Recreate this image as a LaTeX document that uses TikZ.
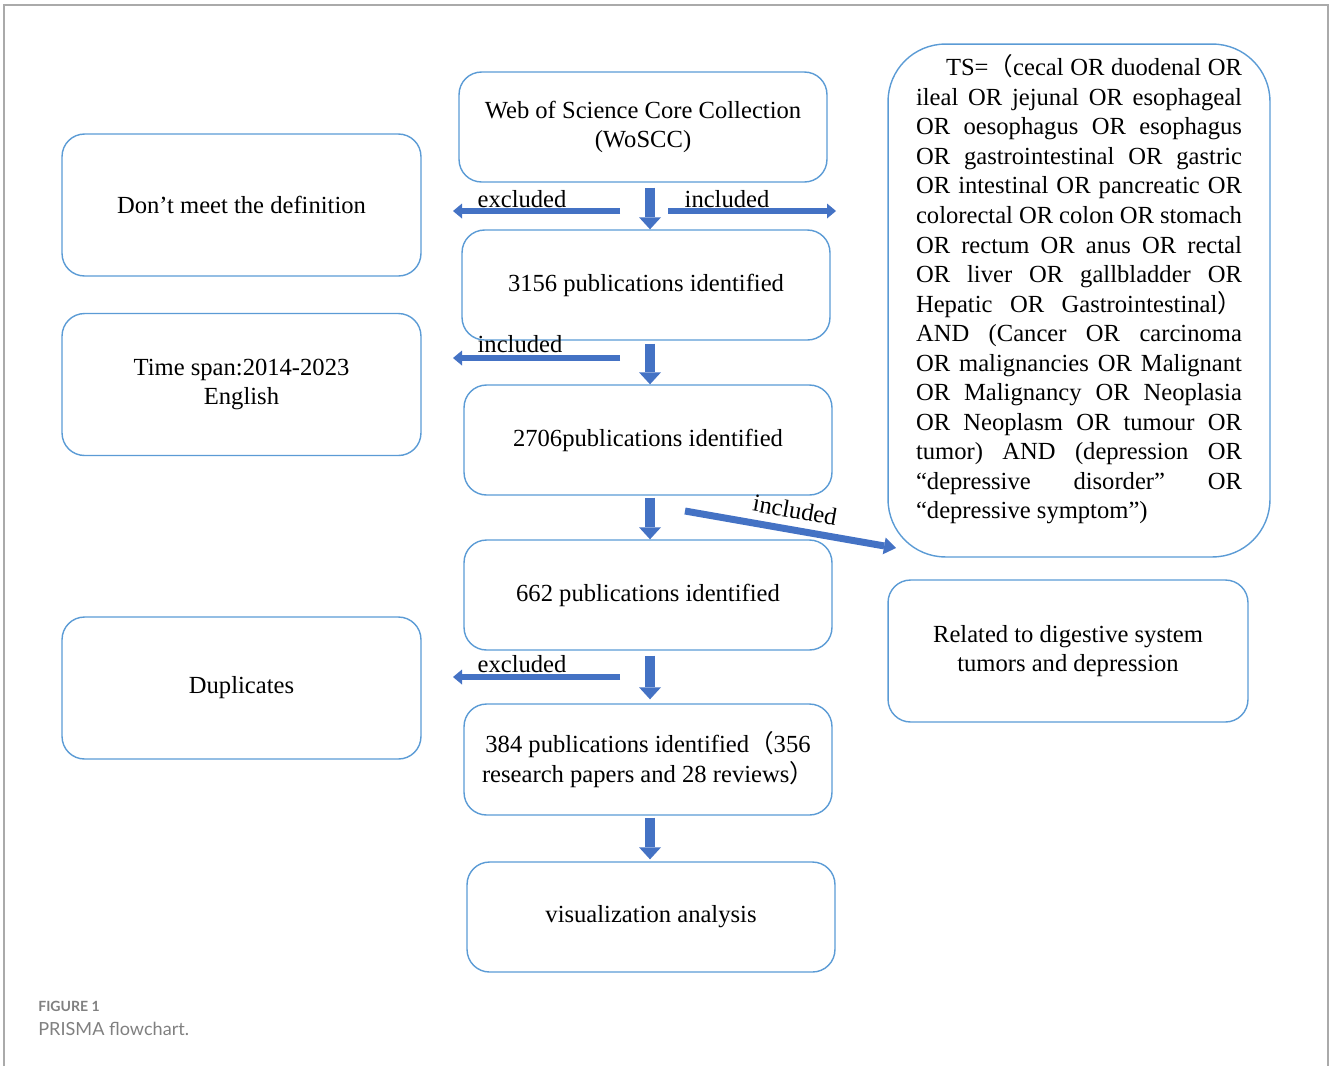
\documentclass[tikz,border=0pt]{standalone}
\usepackage{fontspec}
\setmainfont{Liberation Serif}
\newfontfamily\cjkfont{Noto Sans CJK SC}
\newfontfamily\capfont{Lato}
\usetikzlibrary{arrows.meta, positioning, calc}
\definecolor{boxblue}{RGB}{91,155,213}
\definecolor{arrowblue}{RGB}{68,114,196}
\definecolor{framegray}{RGB}{170,170,170}
\definecolor{capgray}{RGB}{128,128,128}
\newcommand{\lpar}{{\cjkfont （}}
\newcommand{\rpar}{{\cjkfont ）}}
\newcommand{\qline}[1]{\makebox[6.52cm][s]{#1}}

\begin{document}
\begin{tikzpicture}[x=0.02cm, y=-0.02cm,
    box/.style={draw=boxblue, line width=0.8pt, rounded corners=0.45cm, align=center,
                minimum width=7.36cm, minimum height=2.2cm, inner sep=2pt,
                font=\fontsize{14}{16.8}\selectfont},
    sidebox/.style={box, minimum width=7.18cm, minimum height=2.84cm},
    downarrow/.style={arrowblue, line width=0.2cm, -{Triangle[length=0.24cm, width=0.44cm, line width=0pt]}},
    sidearrow/.style={arrowblue, line width=0.12cm, -{Triangle[length=0.18cm, width=0.3cm, line width=0pt]}},
    lbl/.style={font=\fontsize{14}{16.8}\selectfont, inner sep=0pt, anchor=base}]
    \useasboundingbox (0,0) rectangle (1331,1066);
    \draw[framegray, line width=1.2pt] (4,1066) -- (4,5) -- (1328,5) -- (1328,1066);

    % Main column
    \node[box] (wos) at (643,127) {Web of Science Core Collection\\(WoSCC)};
    \node[box] (n3156) at (646,285) {3156 publications identified};
    \node[box] (n2706) at (648,440) {2706publications identified};
    \node[box] (n662) at (648,595) {662 publications identified};
    \node[box, minimum height=2.22cm] (n384) at (648,759.5) {384 publications identified\lpar 356\\research papers and 28 reviews\rpar};
    \node[box] (vis) at (651,917) {visualization analysis};

    % Left column
    \node[sidebox] (nodef) at (241.5,205) {Don’t meet the definition};
    \node[sidebox] (span) at (241.5,384.5) {Time span:2014-2023\\English};
    \node[sidebox] (dup) at (241.5,688) {Duplicates};

    % Right column
    \node[box, rounded corners=1.15cm, minimum width=7.64cm, minimum height=10.26cm,
          align=left, inner sep=0pt] (query) at (1079,300.5) {%
        \qline{\hspace*{0.6cm}TS=\lpar cecal OR duodenal OR}\\
        \qline{ileal OR jejunal OR esophageal}\\
        \qline{OR oesophagus OR esophagus}\\
        \qline{OR gastrointestinal OR gastric}\\
        \qline{OR intestinal OR pancreatic OR}\\
        \qline{colorectal OR colon OR stomach}\\
        \qline{OR rectum OR anus OR rectal}\\
        \qline{OR liver OR gallbladder OR}\\
        \qline{Hepatic OR Gastrointestinal\rpar}\\
        \qline{AND (Cancer OR carcinoma}\\
        \qline{OR malignancies OR Malignant}\\
        \qline{OR Malignancy OR Neoplasia}\\
        \qline{OR Neoplasm OR tumour OR}\\
        \qline{tumor) AND (depression OR}\\
        \qline{“depressive disorder” OR}\\
        “depressive symptom”)\\[-0.04cm]\mbox{}};
    \node[sidebox, minimum width=7.2cm] (related) at (1068,651) {Related to digestive system\\tumors and depression};

    % Down arrows
    \coordinate (spine) at (650,0);
    \draw[downarrow, shorten <=0.1cm] (wos.south -| spine) -- (n3156.north -| spine);
    \draw[downarrow, shorten <=0.06cm] (n3156.south -| spine) -- (n2706.north -| spine);
    \draw[downarrow, shorten <=0.04cm] (n2706.south -| spine) -- (n662.north -| spine);
    \draw[downarrow, shorten <=0.1cm, shorten >=0.08cm] (n662.south -| spine) -- (n384.north -| spine);
    \draw[downarrow, shorten <=0.04cm, shorten >=0.04cm] (n384.south -| spine) -- (vis.north -| spine);

    % Side arrows
    \coordinate (exAfrom) at (620,211);
    \coordinate (exAto) at (453,211);
    \coordinate (inAfrom) at (668,211);
    \coordinate (inAto) at (836,211);
    \coordinate (inBfrom) at (620,358);
    \coordinate (inBto) at (453,358);
    \coordinate (exCfrom) at (620,677);
    \coordinate (exCto) at (453,677);
    \coordinate (inDfrom) at (685,511);
    \coordinate (inDto) at (896,548);
    \draw[sidearrow] (exAfrom) -- (exAto);
    \draw[sidearrow] (inAfrom) -- (inAto);
    \draw[sidearrow] (inBfrom) -- (inBto);
    \draw[sidearrow] (exCfrom) -- (exCto);
    \draw[sidearrow, line width=0.14cm, -{Triangle[length=0.24cm, width=0.34cm, line width=0pt]}] (inDfrom) -- (inDto);
    \node[lbl] (exAlbl) at (522,207) {excluded};
    \node[lbl] (inAlbl) at (727,207) {included};
    \node[lbl] (inBlbl) at (520,352) {included};
    \node[lbl] (exClbl) at (522,672) {excluded};
    \node[lbl, anchor=center, rotate=-10] (inDlbl) at (795,510) {included};

    % Caption
    \node[anchor=west, inner sep=0pt, text=capgray, font=\capfont\bfseries\fontsize{8}{10}\selectfont] (figno) at (38,1006) {FIGURE 1};
    \node[anchor=west, inner sep=0pt, text=capgray, font=\capfont\fontsize{10.3}{12}\selectfont] (figcap) at (38,1029) {PRISMA flowchart.};
\end{tikzpicture}
\end{document}
